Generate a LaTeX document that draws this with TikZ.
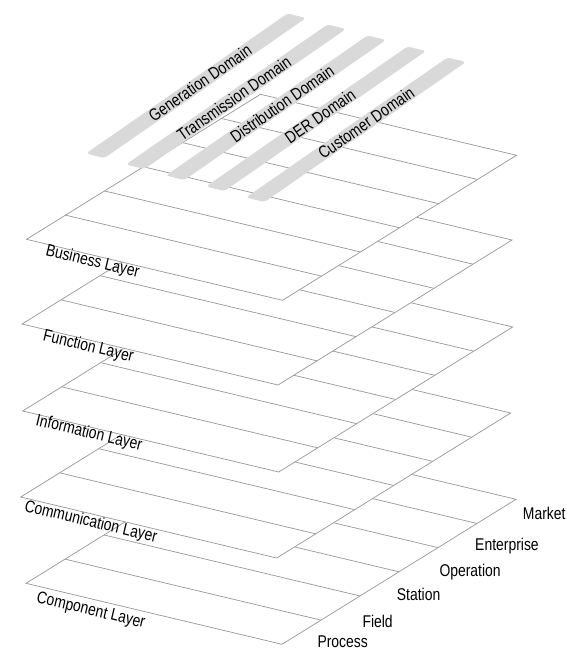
\documentclass[tikz,border=0pt]{standalone}
\usepackage{fontspec}
\setmainfont{Liberation Sans}[FakeStretch=0.82]
\usetikzlibrary{calc}
\definecolor{linegray}{HTML}{9C9C9C}
\definecolor{bargray}{HTML}{D9D9D9}
\tikzset{
  layerline/.style={draw=linegray, line width=0.75pt, line join=miter},
  layerplane/.style={layerline, fill=white},
  domainbar/.style={fill=bargray, draw=none, rounded corners=3pt},
  lbl/.style={font=\fontsize{17}{20}\selectfont, inner sep=0pt},
  layerlbl/.style={lbl, rotate=-13.4},
  zonelbl/.style={lbl, anchor=base west},
  domlbl/.style={lbl, rotate=34.8},
}
\newcommand\sgamlayer[3]{%
  \begin{scope}[shift={(#2,#3)}]
    \path[layerplane] (0,0) coordinate (#1-L) -- (256,61) coordinate (#1-B)
      -- (490,-84) coordinate (#1-R) -- (234,-145) coordinate (#1-T) -- cycle;
    \foreach \k in {1,...,5}{\draw[layerline] (39*\k,-24.1667*\k) -- ++(256,61);}
  \end{scope}}
\newcommand\sgambar[5]{%
  \path[domainbar] (#2,#3) coordinate (#1-a) -- ++(18.5,4.5) -- ++(201.5,-140)
    -- ++(-18.5,-4.5) -- cycle;
  \node[domlbl] (#1) at ($(#1-a)+(9.25,2.25)+#4*(201.5,-140)$) {#5};}
\begin{document}
\begin{tikzpicture}[x=1pt,y=-1pt]
\useasboundingbox (0,0) rectangle (567,651);
% layers, back to front
\sgamlayer{comp}{26}{583.3}
\sgamlayer{comm}{20.7}{497}
\sgamlayer{info}{22.7}{411}
\sgamlayer{func}{22}{324}
\sgamlayer{bus}{26.5}{239.3}
% domain bars
\sgambar{gen}{86}{153.5}{0.52}{Generation Domain}
\sgambar{trans}{126}{164.5}{0.49}{Transmission Domain}
\sgambar{dist}{166}{175.5}{0.53}{Distribution Domain}
\sgambar{der}{206}{186.5}{0.52}{DER Domain}
\sgambar{cust}{246}{197.5}{0.55}{Customer Domain}
% layer labels
\node[layerlbl] (lbus)  at (92.5,262)   {Business Layer};
\node[layerlbl] (lfunc) at (88.3,347)   {Function Layer};
\node[layerlbl] (linfo) at (89,433.5)   {Information Layer};
\node[layerlbl] (lcomm) at (90.8,522.5) {Communication Layer};
\node[layerlbl] (lcomp) at (90.8,611)   {Component Layer};
% zone labels
\node[zonelbl] (zmarket) at (522.7,519.3) {Market};
\node[zonelbl] (zent)    at (475,550)     {Enterprise};
\node[zonelbl] (zop)     at (439.3,576.3) {Operation};
\node[zonelbl] (zstat)   at (396.7,600)   {Station};
\node[zonelbl] (zfield)  at (362.3,627.3) {Field};
\node[zonelbl] (zproc)   at (317.3,647.2) {Process};
\end{tikzpicture}
\end{document}
